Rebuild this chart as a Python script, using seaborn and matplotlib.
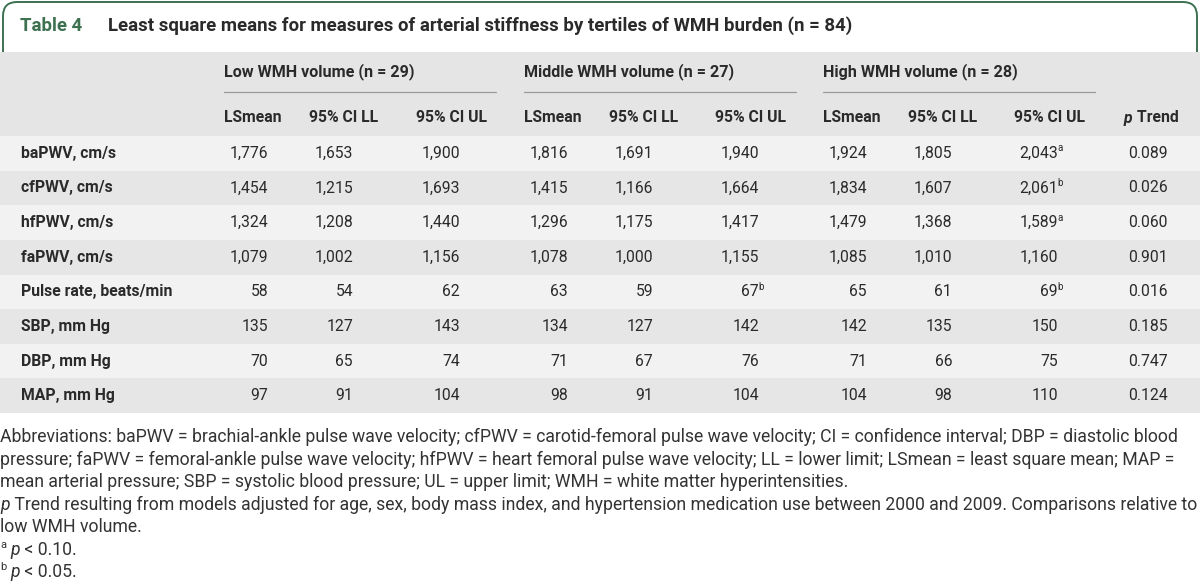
import matplotlib
matplotlib.use("Agg")
import matplotlib.pyplot as plt
from matplotlib.patches import FancyBboxPatch, Rectangle
from matplotlib.colors import ListedColormap
import numpy as np
import pandas as pd
import seaborn as sns

# ---------------- data ----------------
title_label = "Table 4"
title_text = "Least square means for measures of arterial stiffness by tertiles of WMH burden (n = 84)"
groups = ["Low WMH volume (n = 29)", "Middle WMH volume (n = 27)", "High WMH volume (n = 28)"]
sub_headers = ["LSmean", "95% CI LL", "95% CI UL"]
measures = ["baPWV, cm/s", "cfPWV, cm/s", "hfPWV, cm/s", "faPWV, cm/s",
            "Pulse rate, beats/min", "SBP, mm Hg", "DBP, mm Hg", "MAP, mm Hg"]
low_mean = [1776, 1454, 1324, 1079, 58, 135, 70, 97]
low_ll = [1653, 1215, 1208, 1002, 54, 127, 65, 91]
low_ul = [1900, 1693, 1440, 1156, 62, 143, 74, 104]
mid_mean = [1816, 1415, 1296, 1078, 63, 134, 71, 98]
mid_ll = [1691, 1166, 1175, 1000, 59, 127, 67, 91]
mid_ul = [1940, 1664, 1417, 1155, 67, 142, 76, 104]
high_mean = [1924, 1834, 1479, 1085, 65, 142, 71, 104]
high_ll = [1805, 1607, 1368, 1010, 61, 135, 66, 98]
high_ul = [2043, 2061, 1589, 1160, 69, 150, 75, 110]
mid_ul_sup = ["", "", "", "", "b", "", "", ""]
high_ul_sup = ["a", "b", "a", "", "b", "", "", ""]
p_trend = [0.089, 0.026, 0.060, 0.901, 0.016, 0.185, 0.747, 0.124]

footnotes = [
    "Abbreviations: baPWV = brachial-ankle pulse wave velocity; cfPWV = carotid-femoral pulse wave velocity; CI = confidence interval; DBP = diastolic blood",
    "pressure; faPWV = femoral-ankle pulse wave velocity; hfPWV = heart femoral pulse wave velocity; LL = lower limit; LSmean = least square mean; MAP =",
    "mean arterial pressure; SBP = systolic blood pressure; UL = upper limit; WMH = white matter hyperintensities.",
]
trend_note = " Trend resulting from models adjusted for age, sex, body mass index, and hypertension medication use between 2000 and 2009. Comparisons relative to"
trend_note2 = "low WMH volume."
sig_notes = [("a", " < 0.10."), ("b", " < 0.05.")]

# ---------------- layout / style ----------------
W, H = 1200, 583
FONT = "Roboto"
sns.set_theme(style="white")
plt.rcParams["font.family"] = [FONT, "DejaVu Sans"]

GREEN = "#3d7150"
TXT = "#2a2a2a"
FN_TXT = "#333333"
HEAD_BG = "#e5e5e5"
ROW_LIGHT = "#f2f2f2"
ROW_DARK = "#e6e6e6"

fig = plt.figure(figsize=(W / 100, H / 100), dpi=100)
fig.patch.set_facecolor("white")
renderer = fig.canvas.get_renderer()

table_top, table_bot = 136, 413
head_top = 52

# stripes with seaborn heatmap
ax_bg = fig.add_axes([0, 1 - table_bot / H, 1, (table_bot - table_top) / H])
stripe = pd.DataFrame({"s": [i % 2 for i in range(len(measures))]}, index=measures)
sns.heatmap(stripe, ax=ax_bg, cmap=ListedColormap([ROW_LIGHT, ROW_DARK]), cbar=False,
            xticklabels=False, yticklabels=False, vmin=0, vmax=1)
ax_bg.set_axis_off()

ax = fig.add_axes([0, 0, 1, 1])
ax.set_xlim(0, W)
ax.set_ylim(H, 0)
ax.set_axis_off()
ax.patch.set_alpha(0)


def text_width(s, **kw):
    t = ax.text(0, 0, s, **kw)
    w = t.get_window_extent(renderer=renderer).width
    t.remove()
    return w


def fit_size(s, target, base=12, **kw):
    w = text_width(s, fontsize=base, **kw)
    return base * target / w


def place_seq(x, y, pieces, **common):
    for s, kw in pieces:
        opts = dict(common)
        opts.update(kw)
        dy = opts.pop("dy", 0)
        t = ax.text(x, y + dy, s, va="center", ha="left", **opts)
        x += t.get_window_extent(renderer=renderer).width
    return x


# title box
box = FancyBboxPatch((3, 2), W - 6, 90, boxstyle="round,pad=0,rounding_size=14",
                     fc="white", ec=GREEN, lw=1.4, zorder=1)
ax.add_patch(box)
ax.add_patch(Rectangle((0, head_top), W, table_top - head_top, fc=HEAD_BG, ec="none", zorder=2))
TS = fit_size(title_text, 852 - 108, fontweight="semibold")
ax.text(20, 26, title_label, color=GREEN, fontsize=TS, fontweight="semibold", va="center", zorder=3)
ax.text(108, 26, title_text, color=TXT, fontsize=TS, fontweight="semibold", va="center", zorder=3)

FS = 11.3
GS = fit_size(groups[0], 415 - 224, fontweight="semibold")
col_left = [224, 309, 416, 524, 609, 715, 823, 908, 1014]
num_w = 44
p_left = 1124
y_g, y_line, y_sub = 72, 92, 118
for gi, g in enumerate(groups):
    x0 = col_left[gi * 3]
    ax.text(x0, y_g, g, fontsize=GS, fontweight="semibold", color=TXT, va="center", zorder=3)
    ax.plot([x0, x0 + 272], [y_line, y_line], color="#9a9a9a", lw=0.9, zorder=3)
    for si, s in enumerate(sub_headers):
        ax.text(col_left[gi * 3 + si], y_sub, s, fontsize=FS, fontweight="semibold",
                color=TXT, va="center", zorder=3)
place_seq(p_left, y_sub, [("p", dict(style="italic")), (" Trend", {})],
          fontsize=FS, fontweight="semibold", color=TXT, zorder=3)

row_h = (table_bot - table_top) / len(measures)
cols = [low_mean, low_ll, low_ul, mid_mean, mid_ll, mid_ul, high_mean, high_ll, high_ul]
sups = {5: mid_ul_sup, 8: high_ul_sup}
for r, m in enumerate(measures):
    y = table_top + row_h * (r + 0.5)
    ax.text(21, y, m, fontsize=FS, fontweight="semibold", color=TXT, va="center", zorder=3)
    for ci, col in enumerate(cols):
        xr = col_left[ci] + num_w
        ax.text(xr, y, f"{col[r]:,}", fontsize=FS, color=TXT, va="center", ha="right", zorder=3)
        if ci in sups and sups[ci][r]:
            ax.text(xr - 1, y - 5, sups[ci][r], fontsize=7, color=TXT, va="center", ha="left", zorder=3)
    ax.text(p_left + 44, y, f"{p_trend[r]:.3f}", fontsize=FS, color=TXT, va="center", ha="right", zorder=3)

# footnotes
fn1 = fit_size(footnotes[0], 1195)
base = 12
w4 = text_width("p", fontsize=base, style="italic") + text_width(trend_note, fontsize=base)
fn4 = base * 1196 / w4
FN = min(fn1, fn4)
fy = [437, 459.5, 482, 504.5, 527, 550, 572]
for i, line in enumerate(footnotes):
    ax.text(0, fy[i], line, fontsize=FN, color=FN_TXT, va="center", zorder=3)
place_seq(0, fy[3], [("p", dict(style="italic")), (trend_note, {})], fontsize=FN, color=FN_TXT, zorder=3)
ax.text(0, fy[4], trend_note2, fontsize=FN, color=FN_TXT, va="center", zorder=3)
for k, (lab, rest) in enumerate(sig_notes):
    yy = fy[5 + k]
    place_seq(0, yy, [(lab, dict(fontsize=8, dy=-5)), (" ", {}), ("p", dict(style="italic")), (rest, {})],
              fontsize=FN, color=FN_TXT, zorder=3)

fig.savefig("out.png", dpi=100, facecolor="white")
